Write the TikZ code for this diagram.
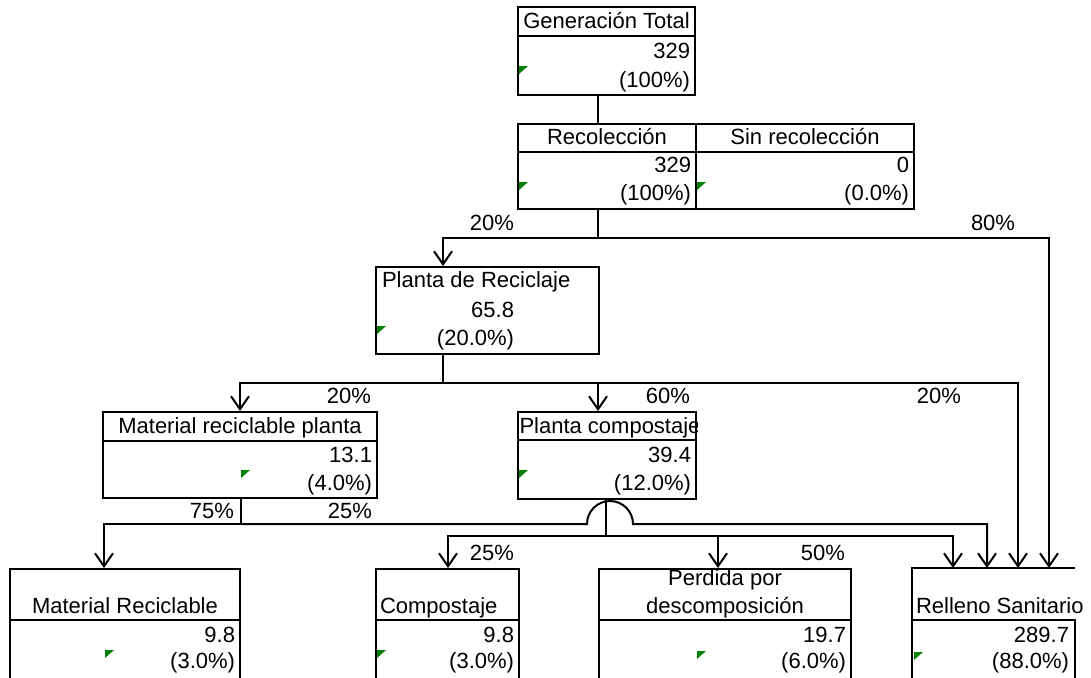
\documentclass[tikz,border=0pt]{standalone}
\usepackage{fontspec}
\setmainfont{Liberation Sans}
\usetikzlibrary{arrows.meta}
\definecolor{mkgreen}{RGB}{0,128,0}
\begin{document}
\begin{tikzpicture}[x=1pt,y=-1pt,line width=2pt,
  every node/.style={font=\fontsize{22}{26}\selectfont},
  box/.style={draw,rectangle,inner sep=0pt},
  hdr/.style={anchor=base,inner sep=0pt},
  hdl/.style={anchor=base west,inner sep=0pt},
  val/.style={anchor=base east,inner sep=0pt},
  pct/.style={anchor=base,inner sep=0pt},
  arr/.style={-{Straight Barb[length=13pt,width=18pt]}},
  mk/.style={fill=mkgreen,draw=none}]
\useasboundingbox (0,0) rectangle (1091,677);

% boxes
\node[box,minimum width=177pt,minimum height=88pt] (gt) at (606.5,51) {};
\node[box,minimum width=178pt,minimum height=85pt] (recL) at (607,166.5) {};
\node[box,minimum width=218pt,minimum height=85pt] (recR) at (805,166.5) {};
\node[box,minimum width=223pt,minimum height=87pt] (pr) at (487.5,310.5) {};
\node[box,minimum width=274pt,minimum height=86pt] (mrp) at (240,455) {};
\node[box,minimum width=178pt,minimum height=87pt] (pc) at (607,455.5) {};
\node[box,minimum width=230pt,minimum height=151pt] (mr) at (125,644.5) {};
\node[box,minimum width=143pt,minimum height=151pt] (co) at (447.5,644.5) {};
\node[box,minimum width=252pt,minimum height=151pt] (pe) at (725,644.5) {};
\node[box,draw=none,minimum width=161pt,minimum height=151pt] (rs) at (993.5,644.5) {};
\draw (rs.north east) -- (rs.north west) -- (rs.south west);
\draw (rs.west |- 0,620) -- (rs.east |- 0,620) -- (rs.south east);

% header dividers
\draw (gt.west |- 0,36) -- (gt.east |- 0,36);
\draw (recL.west |- 0,152) -- (recR.east |- 0,152);
\draw (mrp.west |- 0,441) -- (mrp.east |- 0,441);
\draw (pc.west |- 0,440) -- (pc.east |- 0,440);
\draw (mr.west |- 0,620) -- (mr.east |- 0,620);
\draw (co.west |- 0,620) -- (co.east |- 0,620);
\draw (pe.west |- 0,620) -- (pe.east |- 0,620);

% junction coordinates
\coordinate (j0) at (598,238);
\coordinate (a1) at (443,238);
\coordinate (a2) at (1049,238);
\coordinate (b1) at (240,383);
\coordinate (b2) at (1018,383);
\coordinate (b3) at (598,383);
\coordinate (c0) at (241,524);
\coordinate (c1) at (104,524);
\coordinate (h1) at (587,524);
\coordinate (h2) at (633,524);
\coordinate (c2) at (987,524);
\coordinate (d0) at (606,536);
\coordinate (d1) at (448,536);
\coordinate (d2) at (953,536);
\coordinate (d3) at (718,536);

% connectors
\draw (gt.south -| j0) -- (recL.north -| j0);
\draw (recL.south -| j0) -- (j0);
\draw[arr] (a2) -- (a1) -- (pr.north -| a1);
\draw[arr] (a1) -- (a2) -- (rs.north -| a2);
\draw (pr.south -| a1) -- (a1 |- b1);
\draw[arr] (b2) -- (b1) -- (mrp.north -| b1);
\draw[arr] (b1) -- (b2) -- (rs.north -| b2);
\draw[arr] (b3) -- (pc.north -| b3);
\draw (mrp.south -| c0) -- (c0);
\draw[arr] (c0) -- (c1) -- (mr.north -| c1);
\draw[arr] (c0) -- (h1) arc[start angle=180,end angle=0,radius=23pt] -- (h2) -- (c2) -- (rs.north -| c2);
\draw (pc.south -| d0) -- (d0);
\draw[arr] (d2) -- (d1) -- (co.north -| d1);
\draw[arr] (d1) -- (d2) -- (rs.north -| d2);
\draw[arr] (d3) -- (pe.north -| d3);

% texts
\node[hdr] (t1) at (606.5,29) {Generación Total};
\node[val] (t2) at (691,59) {329};
\node[val] (t3) at (691,87) {(100\%)};
\node[hdr] (t4) at (607,144) {Recolección};
\node[hdr] (t5) at (805,144) {Sin recolección};
\node[val] (t6) at (692,172) {329};
\node[val] (t7) at (692,200) {(100\%)};
\node[val] (t8) at (910,172) {0};
\node[val] (t9) at (910,200) {(0.0\%)};
\node[hdl] (t10) at (381,287) {Planta de Reciclaje};
\node[val] (t11) at (515,317) {65.8};
\node[val] (t12) at (515,345) {(20.0\%)};
\node[hdr] (t13) at (240,433) {Material reciclable planta};
\node[val] (t14) at (373,462) {13.1};
\node[val] (t15) at (373,490) {(4.0\%)};
\begin{scope}
\clip (pc.north west) rectangle (pc.east |- 0,440);
\node[hdl] (t16) at (518.5,433) {Planta compostaje};
\end{scope}
\node[val] (t17) at (692,462) {39.4};
\node[val] (t18) at (692,490) {(12.0\%)};
\node[hdr] (t19) at (125,613) {Material Reciclable};
\node[val] (t20) at (236,642) {9.8};
\node[val] (t21) at (236,668) {(3.0\%)};
\node[hdl] (t22) at (379,613) {Compostaje};
\node[val] (t23) at (515,642) {9.8};
\node[val] (t24) at (515,668) {(3.0\%)};
\begin{scope}
\clip (pe.north west) rectangle (pe.east |- 0,620);
\node[hdr] (t25) at (725,585) {Perdida por};
\node[hdr] (t26) at (725,613) {descomposición};
\end{scope}
\node[val] (t27) at (847,642) {19.7};
\node[val] (t28) at (847,668) {(6.0\%)};
\node[hdl] (t29) at (915,613) {Relleno Sanitario};
\node[val] (t30) at (1070,642) {289.7};
\node[val] (t31) at (1070,668) {(88.0\%)};

% percentages
\node[pct] (p1) at (492,230) {20\%};
\node[pct] (p2) at (993,230) {80\%};
\node[pct] (p3) at (349,403) {20\%};
\node[pct] (p4) at (668,403) {60\%};
\node[pct] (p5) at (939,403) {20\%};
\node[val] (p6) at (235,518) {75\%};
\node[pct] (p7) at (350,518) {25\%};
\node[pct] (p8) at (492,560) {25\%};
\node[pct] (p9) at (823,560) {50\%};

% green markers
\foreach \mx/\my in {519/66,519/182,697/182,377/326,241/470,519/470,105/650,377/650,697/651,914/652}
  \fill[mk] (\mx,\my) -- ++(9,0) -- ++(-9,8) -- cycle;
\end{tikzpicture}
\end{document}
